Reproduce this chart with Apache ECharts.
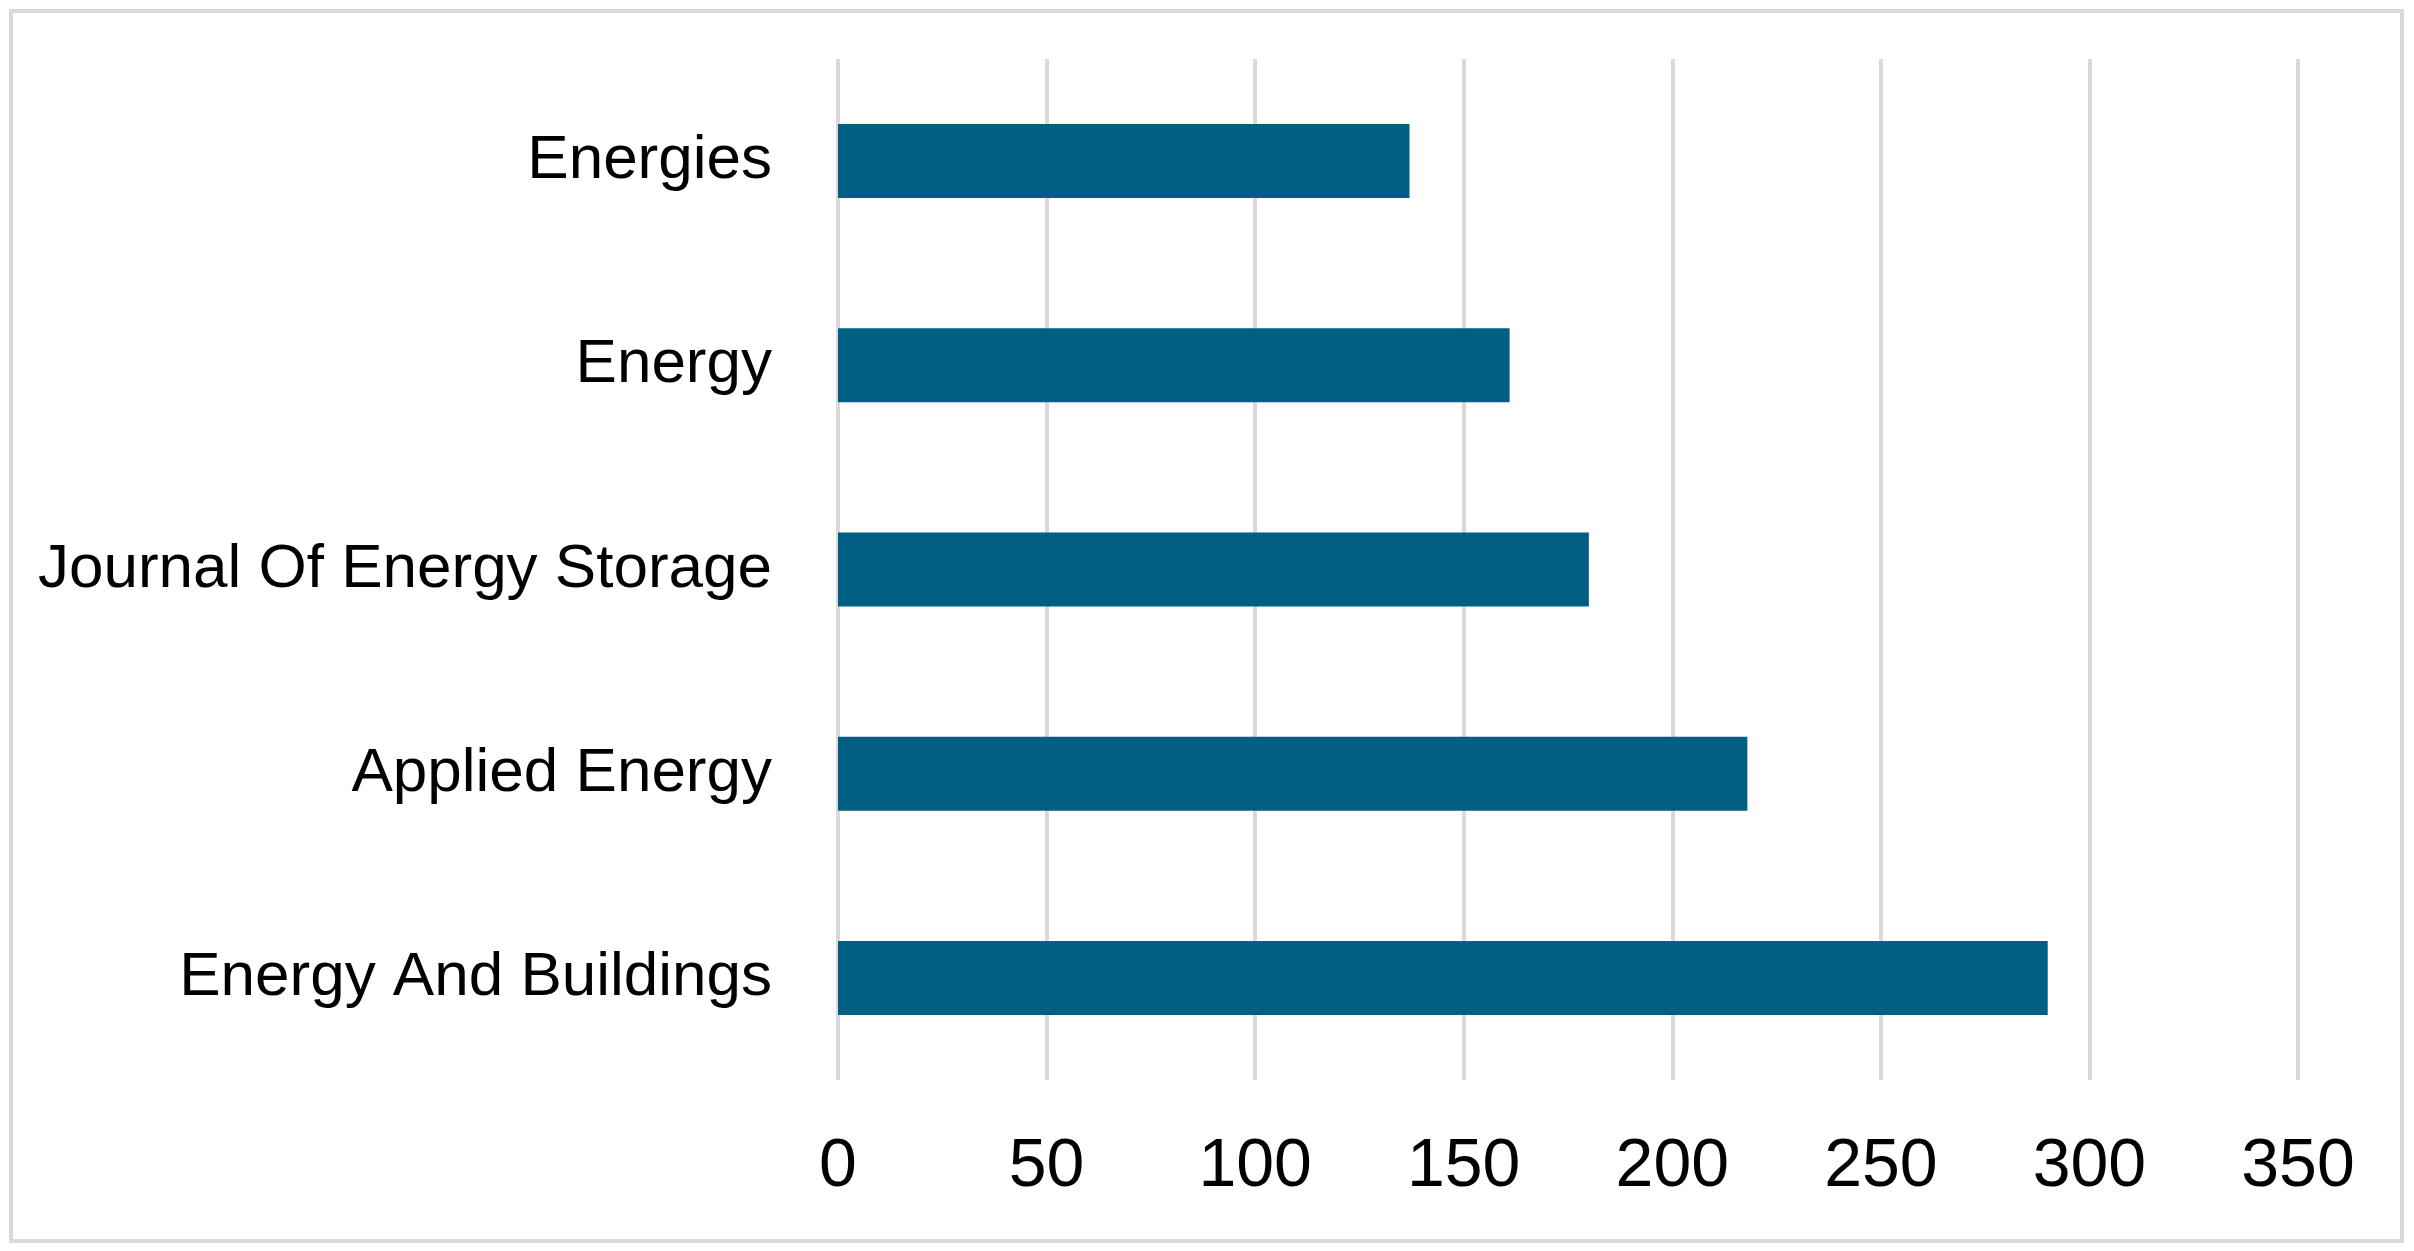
<!DOCTYPE html>
<html>
<head>
<meta charset="utf-8">
<script src="https://cdn.jsdelivr.net/npm/echarts@6/dist/echarts.min.js"></script>
<style>
  html, body { margin: 0; padding: 0; background: #ffffff; }
  #chart { width: 2414px; height: 1251px; }
</style>
</head>
<body>
<div id="chart"></div>
<script>
const categories = ["Energies", "Energy", "Journal Of Energy Storage", "Applied Energy", "Energy And Buildings"];
const values = [137, 161, 180, 218, 290];
const xTicks = { min: 0, max: 350, interval: 50 };

const chart = echarts.init(document.getElementById('chart'), null, { renderer: 'canvas' });
chart.setOption({
  backgroundColor: '#ffffff',
  animation: false,
  graphic: [{
    type: 'rect',
    shape: { x: 11, y: 11, width: 2391, height: 1230 },
    style: { fill: 'none', stroke: '#d9d9d9', lineWidth: 4 },
    silent: true
  }],
  grid: { left: 838, right: 116, top: 59, bottom: 171, containLabel: false },
  xAxis: {
    type: 'value',
    min: xTicks.min, max: xTicks.max, interval: xTicks.interval,
    axisLine: { show: false },
    axisTick: { show: false },
    splitLine: { show: true, lineStyle: { color: '#d9d9d9', width: 4 } },
    axisLabel: {
      color: '#000000', fontSize: 68, fontFamily: 'Liberation Sans, Arial, sans-serif',
      margin: 53
    }
  },
  yAxis: {
    type: 'category',
    data: categories,
    inverse: true,
    axisLine: { show: false },
    axisTick: { show: false },
    splitLine: { show: false },
    axisLabel: {
      color: '#000000', fontSize: 62, fontFamily: 'Liberation Sans, Arial, sans-serif',
      margin: 66
    }
  },
  series: [{
    type: 'bar',
    data: values,
    barWidth: 74,
    itemStyle: { color: '#005f82' }
  }]
});
</script>
</body>
</html>
